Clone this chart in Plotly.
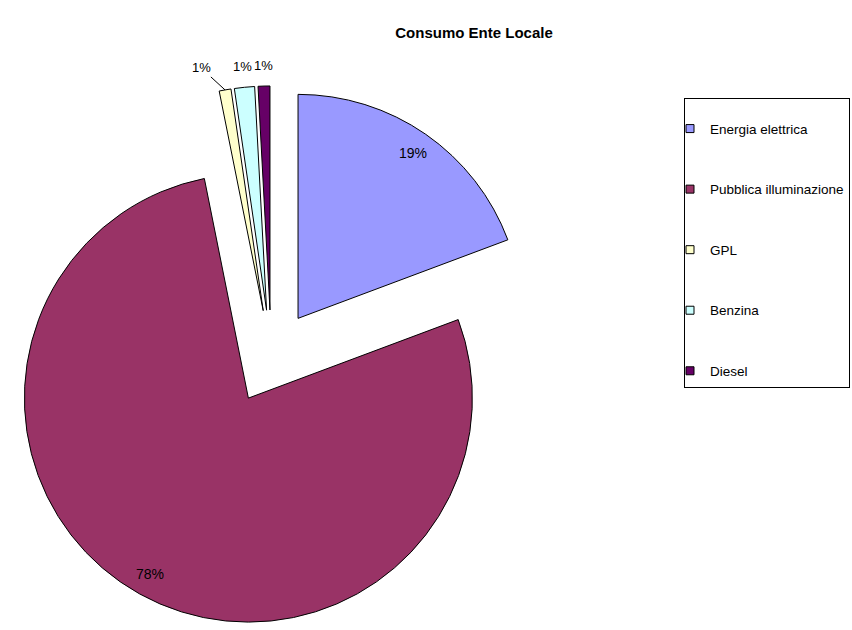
import math
import plotly.graph_objects as go

# ---- data ----
categories = ["Energia elettrica", "Pubblica illuminazione", "GPL", "Benzina", "Diesel"]
values = [19.3, 77.55, 0.85, 1.45, 0.85]
colors = ["#9999FF", "#993366", "#FFFFCC", "#CCFFFF", "#660066"]
label_modes = ["inside", "inside", "leader", "outside", "outside"]
PULL = 0.21

W, H = 852, 630
FONT = "Liberation Sans, Arial, sans-serif"

# pie geometry in pixels
R = 224.0
D = R * PULL
HALF = R * (1 + PULL)
CX, CY = HALF + 0.2, 357.0

fig = go.Figure()
fig.add_trace(go.Pie(
    labels=categories, values=values, sort=False, direction="clockwise", rotation=0,
    marker=dict(colors=colors, line=dict(color="black", width=1)),
    pull=[PULL] * len(values), textinfo="none",
    showlegend=False, hoverinfo="label+percent",
    domain=dict(x=[(CX - HALF) / W, (CX + HALF) / W],
                y=[1 - (CY + HALF) / H, 1 - (CY - HALF) / H]),
))

# percentage labels, placed from the slice angles
total = sum(values)
start = 0.0
annotations = []
for v, mode in zip(values, label_modes):
    span = v / total * 360.0
    mid = math.radians(start + span / 2)
    start += span
    ux, uy = math.sin(mid), -math.cos(mid)
    txt = f"{round(v / total * 100)}%"
    size = 14
    if mode == "inside":
        rad = D + 0.9 * R
    elif mode == "outside":
        rad = D + R + 21
        size = 13
    else:
        rad = D + R
        size = 13
    px, py = CX + rad * ux, CY + rad * uy
    a = dict(x=px / W, y=1 - py / H, xref="paper", yref="paper", text=txt,
             xanchor="center", yanchor="middle",
             font=dict(family=FONT, size=size, color="black"), showarrow=False)
    if mode == "leader":
        a.update(showarrow=True, arrowhead=0, arrowwidth=1, arrowcolor="black",
                 ax=-24, ay=-22, standoff=0)
    annotations.append(a)

# legend entries (one per category, same colours as the slices)
for name, c in zip(categories, colors):
    fig.add_trace(go.Scatter(
        x=[None], y=[None], mode="markers", name=name, legendgroup=name,
        marker=dict(symbol="square", size=8, color=c, line=dict(color="black", width=1)),
    ))

fig.update_layout(
    width=W, height=H,
    margin=dict(l=0, r=0, t=0, b=0, autoexpand=False),
    paper_bgcolor="white", plot_bgcolor="white",
    xaxis=dict(visible=False), yaxis=dict(visible=False),
    title=dict(text="<b>Consumo Ente Locale</b>", x=474 / W, xanchor="center",
               y=1 - 33 / H, yanchor="middle",
               font=dict(family=FONT, size=15, color="black")),
    legend=dict(x=684 / W, y=1 - 98 / H, xanchor="left", yanchor="top",
                bordercolor="black", borderwidth=1, bgcolor="white",
                tracegroupgap=40, indentation=-15, itemwidth=30,
                title=dict(text=" ", font=dict(size=11)),
                font=dict(family=FONT, size=13.5, color="black")),
    annotations=annotations,
)

fig.write_html("out.html", config={"displayModeBar": False},
               post_script="document.body.style.margin='0px';document.body.style.overflow='hidden';")
